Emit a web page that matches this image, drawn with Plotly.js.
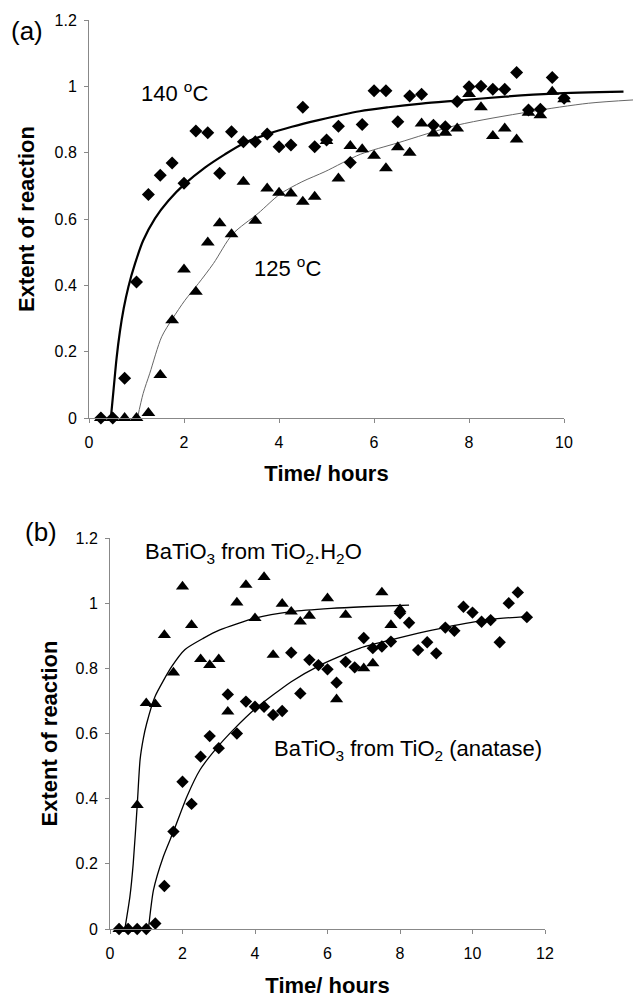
<!DOCTYPE html>
<html><head><meta charset="utf-8">
<script src="https://cdn.plot.ly/plotly-3.0.1.min.js"></script>
<style>body{margin:0;background:#fff}#chart{width:633px;height:998px}</style>
</head><body><div id="chart"></div>
<script>
// ---------- Panel (a) ----------
const timeA = [0.25,0.5,0.75,1.0,1.25,1.5,1.75,2.0,2.25,2.5,2.75,3.0,3.25,3.5,3.75,4.0,4.25,4.5,4.75,5.0,5.25,5.5,5.75,6.0,6.25,6.5,6.75,7.0,7.25,7.5,7.75,8.0,8.25,8.5,8.75,9.0,9.25,9.5,9.75,10.0];
const ext140 = [0,0,0.12,0.41,0.674,0.732,0.769,0.708,0.865,0.86,0.738,0.863,0.833,0.833,0.856,0.818,0.823,0.937,0.818,0.838,0.88,0.77,0.885,0.987,0.987,0.893,0.971,0.976,0.883,0.878,0.954,0.999,1.0,0.991,0.991,1.042,0.929,0.931,1.027,0.964];
const ext125 = [0,0,0,0,0.015,0.13,0.295,0.448,0.381,0.529,0.587,0.554,0.712,0.595,0.692,0.679,0.677,0.652,0.667,0.835,0.722,0.82,0.81,0.791,0.753,0.816,0.8,0.888,0.858,0.86,0.873,0.977,0.937,0.85,0.873,0.84,0.92,0.913,0.984,0.961];
const fit140X = [0.46,0.52,0.58,0.65,0.73,0.83,0.97,1.14,1.39,1.67,2.01,2.44,2.86,3.28,3.76,4.27,4.83,5.7,6.3,7.0,7.75,8.76,9.77,11.25];
const fit140Y = [0,0.09,0.18,0.26,0.33,0.396,0.466,0.535,0.602,0.655,0.705,0.755,0.795,0.83,0.856,0.878,0.898,0.925,0.937,0.948,0.957,0.969,0.978,0.984];
const fit125X = [1.02,1.14,1.28,1.53,1.76,2.02,2.3,2.62,3.02,3.56,4.02,4.48,4.97,5.71,6.51,7.75,9.26,10.51,11.46];
const fit125Y = [0,0.074,0.135,0.245,0.3,0.355,0.405,0.466,0.554,0.617,0.675,0.712,0.743,0.795,0.83,0.883,0.923,0.949,0.959];
const ticksAx = [0,2,4,6,8,10];
// ---------- Panel (b) ----------
const timeBHyd = [0.25,0.5,0.75,1.0,1.25,1.5,1.75,2.0,2.25,2.5,2.75,3.0,3.25,3.5,3.75,4.0,4.25,4.5,4.75,5.0,5.25,5.5,6.0,6.25,6.5,7.0,7.25,7.5,7.75,8.0];
const extHyd = [0,0,0.38,0.693,0.69,0.902,0.787,1.051,0.933,0.828,0.81,0.828,0.667,1.002,1.056,0.954,1.08,0.841,0.998,0.974,0.943,0.961,1.015,0.705,0.964,0.8,0.815,1.033,0.933,0.981];
const timeBAna = [0.25,0.5,0.75,1.0,1.25,1.5,1.75,2.0,2.25,2.5,2.75,3.0,3.25,3.5,3.75,4.0,4.25,4.5,4.75,5.0,5.25,5.5,5.75,6.0,6.25,6.5,6.75,7.0,7.25,7.5,7.75,8.0,8.25,8.5,8.75,9.0,9.25,9.5,9.75,10.0,10.25,10.5,10.75,11.0,11.25,11.5];
const extAna = [0,0,0,0,0.017,0.132,0.299,0.452,0.384,0.529,0.592,0.555,0.72,0.6,0.698,0.682,0.682,0.657,0.669,0.848,0.723,0.826,0.81,0.797,0.756,0.82,0.803,0.893,0.862,0.867,0.882,0.969,0.94,0.856,0.88,0.846,0.925,0.915,0.989,0.971,0.943,0.948,0.88,1.0,1.033,0.957];
const fitHydX = [0.41,0.55,0.64,0.75,0.83,0.92,1.01,1.24,1.7,2.07,2.57,3.03,4.0,5.0,6.1,7.0,8.25];
const fitHydY = [0,0.1,0.2,0.378,0.52,0.585,0.63,0.713,0.805,0.858,0.892,0.918,0.954,0.974,0.984,0.989,0.994];
const fitAnaX = [1.06,1.2,1.47,1.75,2.12,2.48,2.94,3.4,4.0,5.0,5.75,6.9,7.75,8.48,9.22,10.48,11.47];
const fitAnaY = [0,0.12,0.222,0.299,0.406,0.488,0.555,0.611,0.675,0.759,0.807,0.862,0.887,0.907,0.925,0.95,0.959];
const ticksBx = [0,2,4,6,8,10,12];
const ticksY = [0,0.2,0.4,0.6,0.8,1.0,1.2];

const FONT = 'Arial, "Liberation Sans", sans-serif';
const W = 633, H = 998;
const px = v => v / W;
const py = v => (H - v) / H;

const mk = (sym, size) => ({symbol: sym, size: size, color: '#000'});

const traces = [
  {x: fit140X, y: fit140Y, xaxis:'x', yaxis:'y', mode:'lines', line:{color:'#000', width:2.2, shape:'spline', smoothing:0.8}, hoverinfo:'skip'},
  {x: fit125X, y: fit125Y, xaxis:'x', yaxis:'y', mode:'lines', line:{color:'#666', width:1, shape:'spline', smoothing:0.8}, hoverinfo:'skip'},
  {x: timeA, y: ext125, xaxis:'x', yaxis:'y', mode:'markers', marker: mk('triangle-up', 12), cliponaxis:false},
  {x: timeA, y: ext140, xaxis:'x', yaxis:'y', mode:'markers', marker: mk('diamond', 10), cliponaxis:false},
  {x: [], y: [], xaxis:'x3', yaxis:'y', mode:'markers', hoverinfo:'skip'},
  {x: fitHydX, y: fitHydY, xaxis:'x2', yaxis:'y2', mode:'lines', line:{color:'#000', width:1.3, shape:'spline', smoothing:0.6}, hoverinfo:'skip'},
  {x: fitAnaX, y: fitAnaY, xaxis:'x2', yaxis:'y2', mode:'lines', line:{color:'#000', width:1.3, shape:'spline', smoothing:0.6}, hoverinfo:'skip'},
  {x: timeBHyd, y: extHyd, xaxis:'x2', yaxis:'y2', mode:'markers', marker: mk('triangle-up', 11.5), cliponaxis:false},
  {x: timeBAna, y: extAna, xaxis:'x2', yaxis:'y2', mode:'markers', marker: mk('diamond', 9.5), cliponaxis:false}
];

const yAxisBase = {
  range:[0,1.2], tickmode:'array', tickvals: ticksY,
  showline:true, linecolor:'#888', linewidth:1, ticks:'outside', ticklen:4, tickcolor:'#888',
  showgrid:false, zeroline:false, tickfont:{family:FONT, size:16, color:'#000'}, ticklabelstandoff:4,
  title:{text:'Extent of reaction', font:{family:FONT, size:22, color:'#000', weight:'bold'}, standoff:13}
};
const xAxisVis = {
  showline:true, linecolor:'#888', linewidth:1, ticks:'outside', ticklen:4, tickcolor:'#888',
  showgrid:false, zeroline:false, tickfont:{family:FONT, size:16, color:'#000'}, ticklabelstandoff:6,
  title:{text:'Time/ hours', font:{family:FONT, size:22, color:'#000', weight:'bold'}, standoff:15}
};

const layout = {
  width: W, height: H, margin:{l:0, r:0, t:0, b:0},
  paper_bgcolor:'#fff', plot_bgcolor:'rgba(0,0,0,0)', showlegend:false,
  font:{family:FONT, color:'#000'},
  xaxis: {domain:[px(89), 1], range:[0, 11.45], anchor:'y', visible:false},
  xaxis3: Object.assign({}, xAxisVis, {domain:[px(89), px(564)], range:[0,10], anchor:'y', tickmode:'array', tickvals: ticksAx}),
  yaxis: Object.assign({}, yAxisBase, {domain:[py(418), py(20)], anchor:'x'}),
  xaxis2: Object.assign({}, xAxisVis, {domain:[px(110), px(545)], range:[0,12], anchor:'y2', tickmode:'array', tickvals: ticksBx,
           title:{text:'Time/ hours', font:{family:FONT, size:22, color:'#000', weight:'bold'}, standoff:17}}),
  yaxis2: Object.assign({}, yAxisBase, {domain:[py(929), py(538)], anchor:'x2',
           title:{text:'Extent of reaction', font:{family:FONT, size:22, color:'#000', weight:'bold'}, standoff:11}}),
  annotations: [
    {xref:'paper', yref:'paper', x:px(27), y:py(31), text:'(a)', showarrow:false, font:{family:FONT, size:26, color:'#000'}, xanchor:'center', yanchor:'middle'},
    {xref:'paper', yref:'paper', x:px(41), y:py(532), text:'(b)', showarrow:false, font:{family:FONT, size:26, color:'#000'}, xanchor:'center', yanchor:'middle'},
    {xref:'x', yref:'y', x:1.81, y:0.983, text:'140 <sup>o</sup>C', showarrow:false, font:{family:FONT, size:22, color:'#000'}, xanchor:'center', yanchor:'middle'},
    {xref:'x', yref:'y', x:4.17, y:0.455, text:'125 <sup>o</sup>C', showarrow:false, font:{family:FONT, size:22, color:'#000'}, xanchor:'center', yanchor:'middle'},
    {xref:'x2', yref:'y2', x:0.91, y:1.154, text:'BaTiO<sub>3</sub> from TiO<sub>2</sub>.H<sub>2</sub>O', showarrow:false, font:{family:FONT, size:22, color:'#000'}, xanchor:'left', yanchor:'middle'},
    {xref:'x2', yref:'y2', x:4.47, y:0.549, text:'BaTiO<sub>3</sub> from TiO<sub>2</sub> (anatase)', showarrow:false, font:{family:FONT, size:22, color:'#000'}, xanchor:'left', yanchor:'middle'}
  ]
};

Plotly.newPlot('chart', traces, layout, {staticPlot:true, displayModeBar:false});
</script>
</body></html>
